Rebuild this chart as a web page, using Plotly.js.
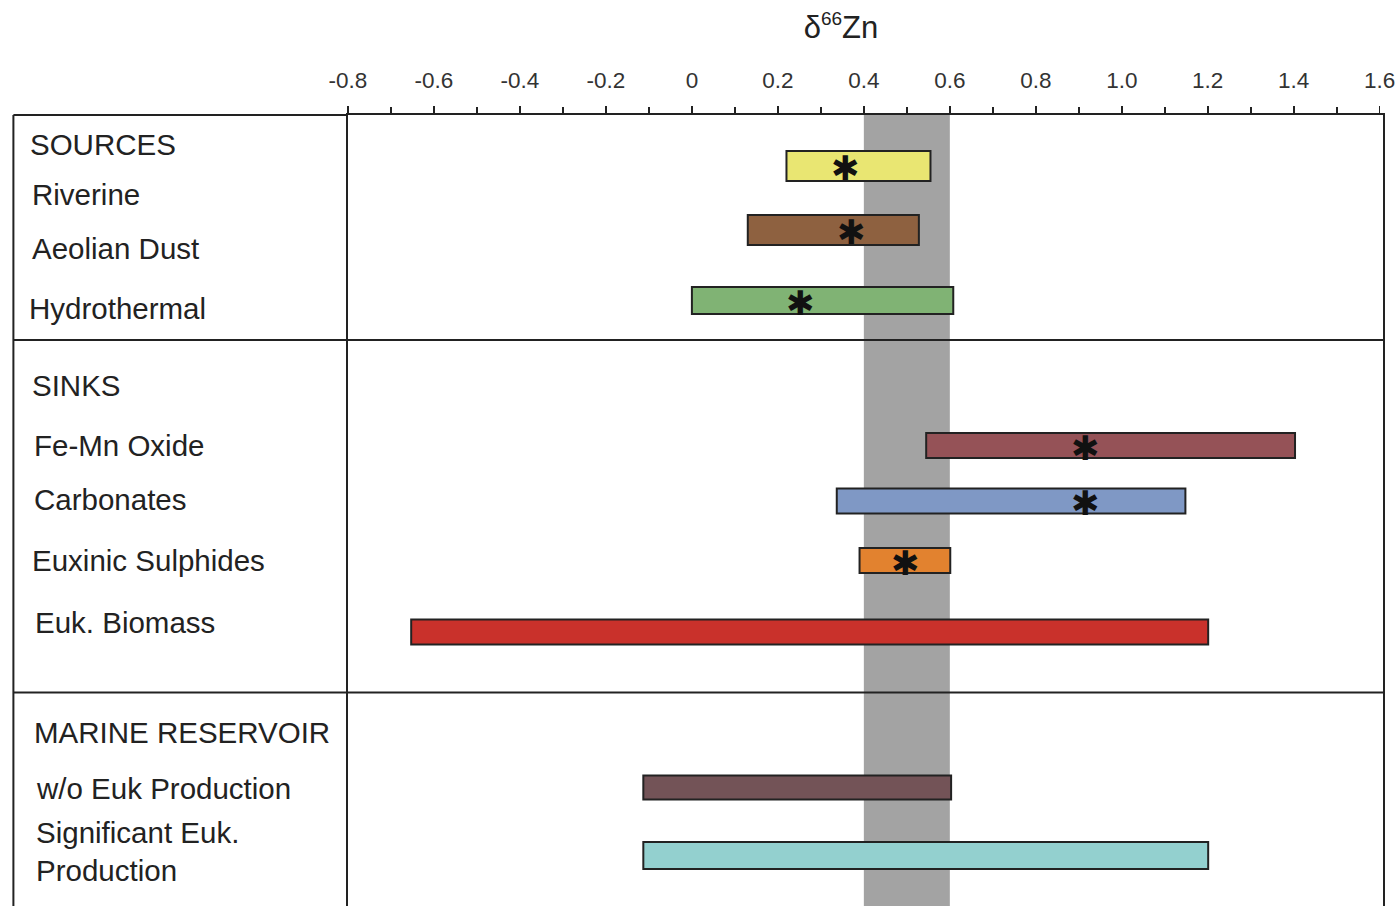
<!DOCTYPE html>
<html>
<head>
<meta charset="utf-8">
<script src="https://cdn.plot.ly/plotly-3.0.1.min.js"></script>
<style>
html,body{margin:0;padding:0;background:#fff;overflow:hidden;}
#chart{width:1397px;height:930px;}
</style>
</head>
<body>
<div id="chart"></div>
<script>
// ---------------- DATA ----------------
const categories = ['Riverine', 'Aeolian Dust', 'Hydrothermal', 'Fe-Mn Oxide', 'Carbonates',
  'Euxinic Sulphides', 'Euk. Biomass', 'w/o Euk Production', 'Significant Euk.<br>Production'];
const lowVals  = [0.22, 0.13, 0.00, 0.545, 0.337, 0.39, -0.653, -0.113, -0.113];
const highVals = [0.555, 0.528, 0.608, 1.403, 1.148, 0.601, 1.201, 0.603, 1.201];
const starVals = [0.357, 0.372, 0.252, 0.915, 0.915, 0.496, null, null, null];
const bandRange = [0.4, 0.6];
const groupHeaders = ['SOURCES', 'SINKS', 'MARINE RESERVOIR'];
const tickVals = [-0.8, -0.6, -0.4, -0.2, 0, 0.2, 0.4, 0.6, 0.8, 1.0, 1.2, 1.4, 1.6];
const tickLabels = ['-0.8', '-0.6', '-0.4', '-0.2', '0', '0.2', '0.4', '0.6', '0.8', '1.0', '1.2', '1.4', '1.6'];
const minorTickVals = [-0.7, -0.5, -0.3, -0.1, 0.1, 0.3, 0.5, 0.7, 0.9, 1.1, 1.3, 1.5];
const titleText = 'δ<sup><span style="font-size:19px">66</span></sup>Zn';

// ---------------- LAYOUT CONSTANTS ----------------
const W = 1397, H = 930;
const plotL = 347.7, plotR = 1383, plotT = 115, plotB = 915;
const plotW = plotR - plotL, plotHt = plotB - plotT;
const xRange = [-0.8, -0.8 + plotW / 430];
// row centres (pixels from top of page) and bar thicknesses
const rowPx = [166, 230, 300.5, 445.5, 501, 560.5, 632, 787.5, 855.5];
const barPx = [30, 30, 27, 25, 25, 25, 25, 24, 27];
const colors = ['#e9e672', '#8e6140', '#80b374', '#955257', '#7f98c5', '#e2822f', '#c9312b', '#735357', '#93d0cf'];
const labelPos = [[30, 194.5], [30, 248.5], [27, 309], [32, 445], [32, 500], [30, 560], [33, 622.5], [34, 788], [34, 851.5]];
const headerPos = [[28, 144.5], [30, 385.5], [32, 732]];
const boxLeft = 13;
const dividersPx = [340, 692.5];

const px2y = p => p - plotT;                      // y data = pixels below plot top
const pX = p => (p - plotL) / plotW;               // paper x
const pY = p => 1 - (p - plotT) / plotHt;          // paper y

const FONT = '"Liberation Sans", Arial, Helvetica, sans-serif';
const INK = '#222';

const bars = {
  type: 'bar', orientation: 'h',
  y: rowPx.map(px2y),
  base: lowVals,
  x: highVals.map((h, i) => h - lowVals[i]),
  width: barPx,
  marker: {color: colors, line: {color: INK, width: 2}},
  hoverinfo: 'skip', showlegend: false
};

const annotations = [];
categories.forEach((c, i) => {
  annotations.push({xref: 'paper', yref: 'paper', x: pX(labelPos[i][0]), y: pY(labelPos[i][1]),
    xanchor: 'left', yanchor: 'middle', align: 'left', showarrow: false, text: c,
    font: {family: FONT, size: 29.5, color: INK}});
});
groupHeaders.forEach((g, i) => {
  annotations.push({xref: 'paper', yref: 'paper', x: pX(headerPos[i][0]), y: pY(headerPos[i][1]),
    xanchor: 'left', yanchor: 'middle', align: 'left', showarrow: false, text: g,
    font: {family: FONT, size: 29.5, color: INK}});
});
starVals.forEach((s, i) => {
  if (s === null) return;
  annotations.push({xref: 'x', yref: 'y', x: s, y: px2y(rowPx[i]), xanchor: 'center', yanchor: 'middle',
    showarrow: false, text: '✱', yshift: -2,
    font: {family: '"DejaVu Sans", sans-serif', size: 34, color: '#111'}});
});

const shapes = [
  {type: 'rect', xref: 'x', yref: 'paper', x0: bandRange[0], x1: bandRange[1], y0: 0, y1: 1,
   fillcolor: '#a3a3a3', line: {width: 0}, layer: 'below'},
  {type: 'line', xref: 'paper', yref: 'paper', x0: pX(boxLeft), x1: 0, y0: 1, y1: 1, line: {color: INK, width: 2}},
  {type: 'line', xref: 'paper', yref: 'paper', x0: pX(boxLeft), x1: pX(boxLeft), y0: 0, y1: 1, line: {color: INK, width: 2}}
];
dividersPx.forEach(d => shapes.push({type: 'line', xref: 'paper', yref: 'paper', x0: pX(boxLeft), x1: 1,
  y0: pY(d), y1: pY(d), line: {color: INK, width: 2}}));

const layout = {
  width: W, height: H,
  margin: {l: plotL, r: W - plotR, t: plotT, b: H - plotB, pad: 0},
  paper_bgcolor: '#fff', plot_bgcolor: 'rgba(0,0,0,0)',
  font: {family: FONT, color: INK},
  title: {text: titleText, font: {family: FONT, size: 31, color: INK},
          xref: 'container', x: 841 / W, xanchor: 'center', yref: 'container', y: 1 - 27 / H, yanchor: 'middle'},
  xaxis: {side: 'top', range: xRange, autorange: false, tickmode: 'array', tickvals: tickVals, ticktext: tickLabels,
          ticks: 'outside', ticklen: 7, tickwidth: 1.6, tickcolor: INK, showgrid: false, zeroline: false,
          showline: true, linecolor: INK, linewidth: 2, mirror: false, ticklabelstandoff: 9,
          minor: {tickmode: 'array', tickvals: minorTickVals, ticks: 'outside', ticklen: 6, tickwidth: 1.6, tickcolor: INK, showgrid: false},
          tickfont: {family: FONT, size: 22.5, color: '#333'}, fixedrange: true},
  yaxis: {range: [plotHt, 0], autorange: false, showticklabels: false, ticks: '', showgrid: false, zeroline: false,
          showline: true, linecolor: INK, linewidth: 2, mirror: true, fixedrange: true},
  bargap: 0,
  shapes: shapes,
  annotations: annotations
};

Plotly.newPlot('chart', [bars], layout, {displayModeBar: false, staticPlot: true});
</script>
</body>
</html>
